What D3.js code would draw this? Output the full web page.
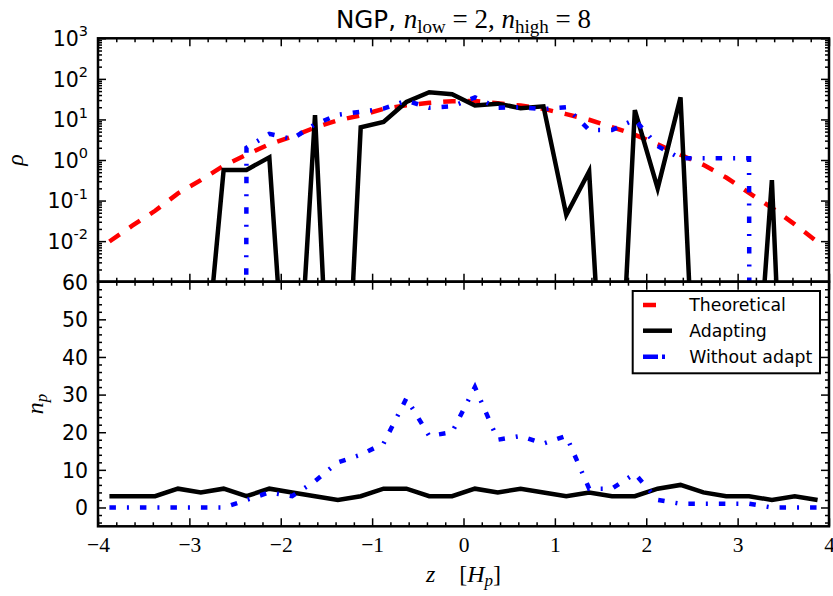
<!DOCTYPE html>
<html><head><meta charset="utf-8">
<script src="https://cdn.jsdelivr.net/npm/d3@7"></script>
<style>body{margin:0;background:#fff} svg{display:block}</style>
</head><body>
<script>
// ---- data ----
const zCenters = [-3.875,-3.625,-3.375,-3.125,-2.875,-2.625,-2.375,-2.125,-1.875,-1.625,-1.375,-1.125,-0.875,-0.625,-0.375,-0.125,
                  0.125,0.375,0.625,0.875,1.125,1.375,1.625,1.875,2.125,2.375,2.625,2.875,3.125,3.375,3.625,3.875];
const rhoTheoretical = [0.0098,0.024,0.056,0.15,0.32,0.72,1.35,2.45,3.8,6.3,9.5,12.6,18.2,22.4,25.7,28.2,
                        28.5,25,22,18.2,13.5,9.8,6.5,4.2,2.45,1.35,0.76,0.37,0.155,0.066,0.026,0.0095];
const rhoAdapting = [1e-12,1e-12,1e-12,1e-12,5e-7,0.57,0.57,1.16,6e-9,12.8,2.5e-11,6.4,8.7,27,47,42,
                     22,24.5,19,21,0.044,0.52,1e-10,17,0.2,35,3e-11,1e-12,4.5e-9,0.32,3e-14,1e-12];
const rhoWithoutAdapt = [0,0,0,0,0,0,2.0,4.4,3.3,7.6,13,15.5,18.5,29,19.5,21,
                         35,19.5,20,18,20,5.5,5.5,9.9,2.2,1.1,1.1,1.1,1.1,0,0,0];
const npAdapting = [3,3,3,5,4,5,3,5,4,3,2,3,5,5,3,3,5,4,5,4,3,4,3,3,5,6,4,3,3,2,3,2];
const npWithoutAdapt = [0,0,0,0,0,0,2,4,3,7,12,14,17,29,19,20,32,18,19,17,19,5,5,9,2,1,1,1,1,0,0,0];
const xTicks = [-4,-3,-2,-1,0,1,2,3,4];
const rhoTickExps = [3,2,1,0,-1,-2];
const npTicks = [0,10,20,30,40,50,60];
const seriesNames = ["Theoretical","Adapting","Without adapt"];
const seriesColors = ["#ff0000","#000000","#0000ff"];

// ---- layout ----
const W=833,H=596;
const L=98,R=829,T=38.3,M=281.7,B=526.3;
const svg = d3.select("body").append("svg").attr("width",W).attr("height",H)
  .style("font-family","'DejaVu Sans', sans-serif");

const x = d3.scaleLinear().domain([-4,4]).range([L,R]);
const yTop = d3.scaleLog().domain([1e-3,1e3]).range([M,T]);
const yBot = d3.scaleLinear().domain([-5,60]).range([B,M]);

const defs = svg.append("defs");
defs.append("clipPath").attr("id","clipTop").append("rect").attr("x",L).attr("y",T).attr("width",R-L).attr("height",M-T);
defs.append("clipPath").attr("id","clipBot").append("rect").attr("x",L).attr("y",M).attr("width",R-L).attr("height",B-M);

// minor tick positions
const xMinor = d3.range(-40,41,2).map(v=>v/10).filter(v=>Math.abs(v-Math.round(v))>1e-9);
const logMinor = [];
for (let e=-3;e<3;e++) for (let k=2;k<=9;k++) logMinor.push(k*Math.pow(10,e));
const npMinor = d3.range(-4,61,2).filter(v=>v%10!==0);

const lw = 4.5;
const dashRed = "12.5,12";
const dashBlue = "6.5,11,2,11";

// ---- lines ----
const safe = v => v>0 ? v : 1e-300;
const lineTop = d3.line().x((d,i)=>x(zCenters[i])).y(d=>yTop(safe(d)));
const lineBot = d3.line().x((d,i)=>x(zCenters[i])).y(d=>yBot(d));

const gTop = svg.append("g").attr("clip-path","url(#clipTop)");
gTop.append("path").datum(rhoTheoretical).attr("d",lineTop).attr("fill","none")
  .attr("stroke",seriesColors[0]).attr("stroke-width",lw).attr("stroke-dasharray",dashRed);
gTop.append("path").datum(rhoAdapting).attr("d",lineTop).attr("fill","none")
  .attr("stroke",seriesColors[1]).attr("stroke-width",lw).attr("stroke-linejoin","miter");
gTop.append("path").datum(rhoWithoutAdapt).attr("d",lineTop).attr("fill","none")
  .attr("stroke",seriesColors[2]).attr("stroke-width",lw).attr("stroke-dasharray",dashBlue);

const gBot = svg.append("g").attr("clip-path","url(#clipBot)");
gBot.append("path").datum(npAdapting).attr("d",lineBot).attr("fill","none")
  .attr("stroke",seriesColors[1]).attr("stroke-width",lw);
gBot.append("path").datum(npWithoutAdapt).attr("d",lineBot).attr("fill","none")
  .attr("stroke",seriesColors[2]).attr("stroke-width",lw).attr("stroke-dasharray",dashBlue);

// ---- axes ----
function styleAxis(g){
  g.select(".domain").remove();
  g.selectAll(".tick line").attr("stroke","#000").attr("stroke-width",1.5);
}
function addAxis(axis, tx, ty){
  const g = svg.append("g").attr("transform",`translate(${tx},${ty})`).call(axis);
  styleAxis(g); return g;
}
const MAJ=8, MIN=4;
// top panel
addAxis(d3.axisTop(x).tickValues(xTicks).tickSize(-MAJ).tickFormat(""),0,T);
addAxis(d3.axisTop(x).tickValues(xMinor).tickSize(-MIN).tickFormat(""),0,T);
addAxis(d3.axisBottom(x).tickValues(xTicks).tickSize(-MAJ).tickFormat(""),0,M);
addAxis(d3.axisBottom(x).tickValues(xMinor).tickSize(-MIN).tickFormat(""),0,M);
const gyTop = addAxis(d3.axisLeft(yTop).tickValues(rhoTickExps.map(e=>Math.pow(10,e))).tickSize(-MAJ).tickPadding(10).tickFormat(()=>""),L,0);
addAxis(d3.axisLeft(yTop).tickValues(logMinor).tickSize(-MIN).tickFormat(""),L,0);
addAxis(d3.axisRight(yTop).tickValues(rhoTickExps.concat([-3]).map(e=>Math.pow(10,e))).tickSize(-MAJ).tickFormat(""),R,0);
addAxis(d3.axisRight(yTop).tickValues(logMinor).tickSize(-MIN).tickFormat(""),R,0);
gyTop.selectAll(".tick text").each(function(d){
  const t = d3.select(this).attr("font-size",20.5).attr("fill","#000").attr("dy","0.36em")
    .attr("font-family","'DejaVu Sans', sans-serif");
  t.text(null);
  t.append("tspan").text("10");
  const e = Math.round(Math.log10(d));
  t.append("tspan").attr("font-size",14.5).attr("dy",-9.8).text(e<0?"-"+(-e):String(e));
});

// bottom panel
addAxis(d3.axisTop(x).tickValues(xTicks).tickSize(-MAJ).tickFormat(""),0,M);
addAxis(d3.axisTop(x).tickValues(xMinor).tickSize(-MIN).tickFormat(""),0,M);
const gxBot = addAxis(d3.axisBottom(x).tickValues(xTicks).tickSize(-MAJ).tickPadding(10).tickFormat(d3.format("d")),0,B);
addAxis(d3.axisBottom(x).tickValues(xMinor).tickSize(-MIN).tickFormat(""),0,B);
const gyBot = addAxis(d3.axisLeft(yBot).tickValues(npTicks).tickSize(-MAJ).tickPadding(10).tickFormat(d3.format("d")),L,0);
addAxis(d3.axisLeft(yBot).tickValues(npMinor).tickSize(-MIN).tickFormat(""),L,0);
addAxis(d3.axisRight(yBot).tickValues(npTicks).tickSize(-MAJ).tickFormat(""),R,0);
addAxis(d3.axisRight(yBot).tickValues(npMinor).tickSize(-MIN).tickFormat(""),R,0);
gyBot.selectAll(".tick text").attr("font-size",20.5).attr("fill","#000").attr("dy","0.36em")
  .attr("font-family","'DejaVu Sans', sans-serif");
gxBot.selectAll(".tick text").attr("font-size",21.5).attr("fill","#000")
  .attr("font-family","'Liberation Serif', serif");

// frames
svg.append("rect").attr("x",L).attr("y",T).attr("width",R-L).attr("height",M-T)
  .attr("fill","none").attr("stroke","#000").attr("stroke-width",2.5);
svg.append("rect").attr("x",L).attr("y",M).attr("width",R-L).attr("height",B-M)
  .attr("fill","none").attr("stroke","#000").attr("stroke-width",2.5);

// ---- title ----
const serif = "'Liberation Serif', serif";
const title = svg.append("text").attr("x",(L+R)/2).attr("y",28).attr("text-anchor","middle")
  .attr("font-size",24.6).attr("fill","#000");
title.append("tspan").attr("font-family","'DejaVu Sans', sans-serif").text("NGP, ");
title.append("tspan").attr("font-family",serif).attr("font-style","italic").attr("font-size",27).text("n");
title.append("tspan").attr("font-family",serif).attr("font-size",19).attr("dy",5).text("low");
title.append("tspan").attr("font-family",serif).attr("font-size",27).attr("dy",-5).text("\u2005=\u20052,\u2005");
title.append("tspan").attr("font-family",serif).attr("font-style","italic").attr("font-size",27).text("n");
title.append("tspan").attr("font-family",serif).attr("font-size",19).attr("dy",5).text("high");
title.append("tspan").attr("font-family",serif).attr("font-size",27).attr("dy",-5).text("\u2005=\u20058");

// ---- axis labels ----
svg.append("text").attr("transform",`translate(23,${(T+M)/2}) rotate(-90)`).attr("text-anchor","middle")
  .attr("font-family",serif).attr("font-style","italic").attr("font-size",24).text("\u03c1");
const ynp = svg.append("text").attr("transform",`translate(43,${(M+B)/2}) rotate(-90)`).attr("text-anchor","middle")
  .attr("font-family",serif).attr("font-style","italic").attr("font-size",24);
ynp.append("tspan").text("n");
ynp.append("tspan").attr("font-size",17).attr("dy",4).text("p");

const xl = svg.append("text").attr("x",(L+R)/2).attr("y",582).attr("text-anchor","middle")
  .attr("font-family",serif).attr("font-size",24);
xl.append("tspan").attr("font-style","italic").text("z");
xl.append("tspan").text("\u2003[");
xl.append("tspan").attr("font-style","italic").text("H");
xl.append("tspan").attr("font-style","italic").attr("font-size",17).attr("dy",4).text("p");
xl.append("tspan").attr("dy",-4).text("]");

// ---- legend ----
const lg = svg.append("g");
lg.append("rect").attr("x",632.7).attr("y",291).attr("width",187.3).attr("height",82.3)
  .attr("fill","#fff").attr("stroke","#000").attr("stroke-width",2);
const legDash = ["13,40", null, "15,4,3,40"];
const legY = [305, 330.7, 356.7];
seriesNames.forEach((name,i)=>{
  lg.append("line").attr("x1",643).attr("x2",672).attr("y1",legY[i]).attr("y2",legY[i])
    .attr("stroke",seriesColors[i]).attr("stroke-width",lw)
    .attr("stroke-dasharray",legDash[i]);
  lg.append("text").attr("x",689.3).attr("y",legY[i]+6.4).attr("font-size",17.3)
    .attr("font-family","'DejaVu Sans', sans-serif").attr("fill","#000").text(name);
});
</script>
</body></html>
